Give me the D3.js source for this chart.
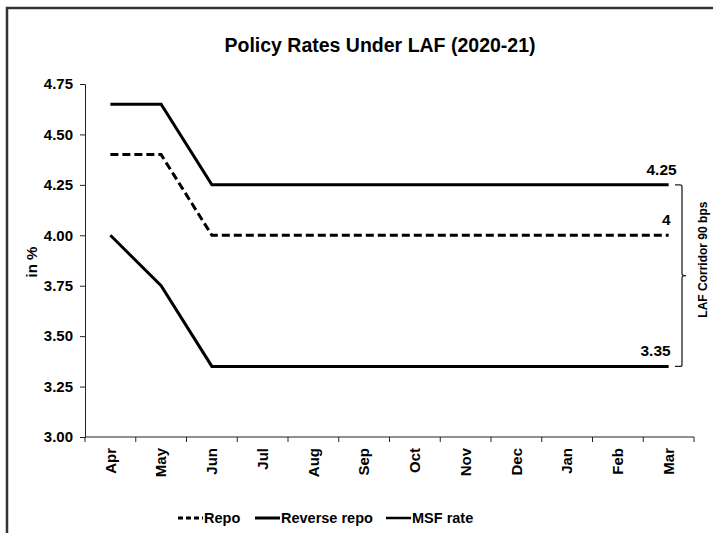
<!DOCTYPE html>
<html><head><meta charset="utf-8">
<script src="https://cdn.jsdelivr.net/npm/d3@7"></script>
<style>
html,body{margin:0;padding:0;background:#fff;}
svg{display:block;font-family:"Liberation Sans",Arial,sans-serif;font-weight:bold;}
</style></head>
<body>
<svg id="chart" width="713" height="533"></svg>
<script>
const months = ["Apr","May","Jun","Jul","Aug","Sep","Oct","Nov","Dec","Jan","Feb","Mar"];
const repo = [4.40,4.40,4.00,4.00,4.00,4.00,4.00,4.00,4.00,4.00,4.00,4.00];
const reverseRepo = [4.00,3.75,3.35,3.35,3.35,3.35,3.35,3.35,3.35,3.35,3.35,3.35];
const msf = [4.65,4.65,4.25,4.25,4.25,4.25,4.25,4.25,4.25,4.25,4.25,4.25];
const yTicks = [3.00,3.25,3.50,3.75,4.00,4.25,4.50,4.75];
const title = "Policy Rates Under LAF (2020-21)";
const yLabel = "in %";
const corridorLabel = "LAF Corridor 90 bps";
const seriesNames = ["Repo","Reverse repo","MSF rate"];

const svg = d3.select("#chart");
// outer frame
svg.append("rect").attr("x",7).attr("y",8).attr("width",730).attr("height",560)
  .attr("fill","none").attr("stroke","#333").attr("stroke-width",2.5);

const pL=85, pR=694, pT=84, pB=437;
const x = d3.scaleBand().domain(months).range([pL,pR]).padding(0);
const y = d3.scaleLinear().domain([3.00,4.75]).range([pB,pT]);
const cx = m => x(m) + x.bandwidth()/2;

svg.append("text").attr("x",380).attr("y",52).attr("text-anchor","middle")
  .attr("font-size",19.5).text(title);

// y axis
const yAxis = svg.append("g").attr("transform",`translate(${pL},0)`)
  .call(d3.axisLeft(y).tickValues(yTicks).tickFormat(d3.format(".2f")).tickSize(5).tickPadding(7));
yAxis.selectAll("text").attr("font-size",15).attr("font-weight","bold").attr("fill","#000")
  .attr("font-family","Liberation Sans, Arial, sans-serif");
yAxis.select(".domain").attr("stroke","#222");
yAxis.selectAll(".tick line").attr("stroke","#222");

// x axis
const xAxis = svg.append("g").attr("transform",`translate(0,${pB})`)
  .call(d3.axisBottom(x).tickSize(0).tickPadding(0));
xAxis.select(".domain").remove();
xAxis.append("line").attr("x1",pL).attr("x2",pR).attr("y1",0).attr("y2",0).attr("stroke","#222");
const bounds = months.map(m=>x(m)).concat([pR]);
xAxis.selectAll(".bt").data(bounds).enter().append("line")
  .attr("x1",d=>d).attr("x2",d=>d).attr("y1",0).attr("y2",5).attr("stroke","#222");
xAxis.selectAll(".tick text")
  .attr("font-size",15).attr("font-weight","bold").attr("fill","#000")
  .attr("font-family","Liberation Sans, Arial, sans-serif")
  .attr("transform","rotate(-90)").attr("text-anchor","end")
  .attr("x",-11).attr("y",0).attr("dy","0.35em");

// y label
svg.append("text").attr("transform","translate(37,262) rotate(-90)")
  .attr("text-anchor","middle").attr("font-size",15).text(yLabel);

const line = d3.line().x((d,i)=>cx(months[i])).y(d=>y(d));
svg.append("path").datum(msf).attr("d",line).attr("fill","none").attr("stroke","#000").attr("stroke-width",3);
svg.append("path").datum(reverseRepo).attr("d",line).attr("fill","none").attr("stroke","#000").attr("stroke-width",3);
svg.append("path").datum(repo).attr("d",line).attr("fill","none").attr("stroke","#000").attr("stroke-width",3)
  .attr("stroke-dasharray","8,4");

// end labels
const last = months.length-1;
const endLabels = [
  {v: msf[last], t: d3.format(".2f")(msf[last]), dx: 8},
  {v: repo[last], t: String(+repo[last]), dx: 2},
  {v: reverseRepo[last], t: d3.format(".2f")(reverseRepo[last]), dx: 2}
];
svg.selectAll(".el").data(endLabels).enter().append("text")
  .attr("x",d=>cx(months[last])+d.dx).attr("y",d=>y(d.v)-10)
  .attr("text-anchor","end").attr("font-size",15.5).text(d=>d.t);

// brace
const bx = 682, bTop = y(msf[last]), bBot = y(reverseRepo[last]), bMid=(bTop+bBot)/2;
svg.append("path").attr("fill","none").attr("stroke","#222").attr("stroke-width",1.3)
  .attr("d",`M${bx-7},${bTop} L${bx-2},${bTop} Q${bx},${bTop} ${bx},${bTop+2} L${bx},${bMid-2} Q${bx},${bMid} ${bx+4},${bMid} Q${bx},${bMid} ${bx},${bMid+2} L${bx},${bBot-2} Q${bx},${bBot} ${bx-2},${bBot} L${bx-7},${bBot}`);
svg.append("text").attr("transform",`translate(707,${bMid-16}) rotate(-90)`)
  .attr("text-anchor","middle").attr("font-size",12).text(corridorLabel);

// legend
const legend = [
  {name: seriesNames[0], x: 178, dash:"5,3", w:3},
  {name: seriesNames[1], x: 255, dash:null, w:3},
  {name: seriesNames[2], x: 386, dash:null, w:2.5}
];
const lg = svg.selectAll(".lg").data(legend).enter().append("g");
lg.append("line").attr("x1",d=>d.x).attr("x2",d=>d.x+25).attr("y1",518).attr("y2",518)
  .attr("stroke","#000").attr("stroke-width",d=>d.w).attr("stroke-dasharray",d=>d.dash);
lg.append("text").attr("x",d=>d.x+26).attr("y",523).attr("font-size",14.5).text(d=>d.name);
</script>
</body></html>
